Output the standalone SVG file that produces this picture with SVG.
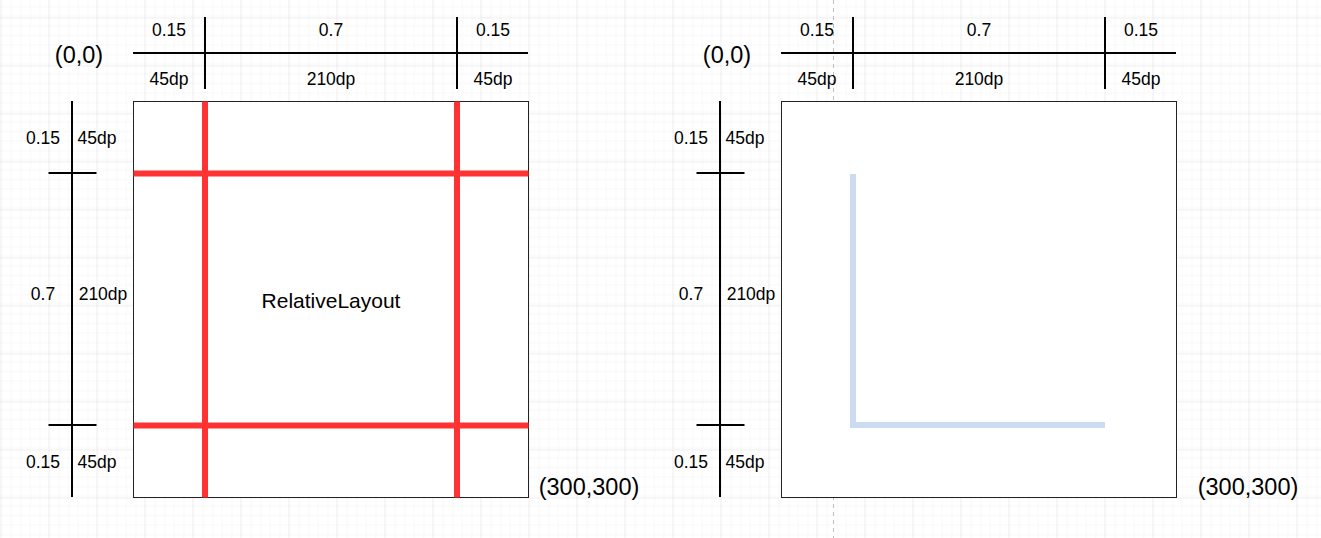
<svg xmlns="http://www.w3.org/2000/svg" width="1321" height="538" viewBox="0 0 1321 538">
<defs>
<pattern id="minor" width="9.6" height="9.6" patternUnits="userSpaceOnUse" x="0.5" y="17.5">
<path d="M0 0H9.6M0 0V9.6" fill="none" stroke="#f1f1f1" stroke-width="1"/>
</pattern>
<pattern id="major" width="48" height="48" patternUnits="userSpaceOnUse" x="0.5" y="17.5">
<rect width="48" height="48" fill="url(#minor)"/>
<path d="M0 0H48M0 0V48" fill="none" stroke="#e2e2e2" stroke-width="1"/>
</pattern>
<style>
.t{font-family:"Liberation Sans",Arial,sans-serif;font-size:17.5px;fill:#000;text-anchor:middle;dominant-baseline:central}
.c{font-family:"Liberation Sans",Arial,sans-serif;font-size:23.5px;fill:#000;text-anchor:middle;dominant-baseline:central}
.rule{stroke:#000;stroke-width:2;fill:none}
.box{fill:#fff;stroke:#222;stroke-width:1}
.red{stroke:#ff3333;stroke-width:6;fill:none}
.blue{stroke:#ccdaf2;stroke-width:6;fill:none}
</style>
</defs>
<rect width="1321" height="538" fill="#fff"/>
<rect width="1321" height="538" fill="url(#major)"/>
<line x1="833.5" y1="0" x2="833.5" y2="538" stroke="#bdbdbd" stroke-width="1" stroke-dasharray="4 4"/>

<g id="left-panel">
<g id="left-box">
<rect class="box" x="133.5" y="101.5" width="395" height="396"/>
<g id="left-guides">
<line class="red" x1="205" y1="101.5" x2="205" y2="497.5"/>
<line class="red" x1="457" y1="101.5" x2="457" y2="497.5"/>
<line class="red" x1="133.5" y1="173.5" x2="528.5" y2="173.5"/>
<line class="red" x1="133.5" y1="425.5" x2="528.5" y2="425.5"/>
</g>
<text class="t" x="331" y="300" style="font-size:21px">RelativeLayout</text>
</g>
<g id="left-top-ruler">
<line class="rule" x1="133" y1="53" x2="528" y2="53"/>
<line class="rule" x1="205" y1="17" x2="205" y2="89"/>
<line class="rule" x1="457" y1="17" x2="457" y2="89"/>
<text class="t" x="169" y="30">0.15</text>
<text class="t" x="169" y="79">45dp</text>
<text class="t" x="331" y="30">0.7</text>
<text class="t" x="331" y="79">210dp</text>
<text class="t" x="493" y="30">0.15</text>
<text class="t" x="493" y="79">45dp</text>
</g>
<g id="left-side-ruler">
<line class="rule" x1="72" y1="101" x2="72" y2="497"/>
<line class="rule" x1="48.5" y1="173" x2="96.5" y2="173"/>
<line class="rule" x1="48.5" y1="425" x2="96.5" y2="425"/>
<text class="t" x="43" y="138">0.15</text>
<text class="t" x="97" y="138">45dp</text>
<text class="t" x="43" y="294">0.7</text>
<text class="t" x="103" y="294">210dp</text>
<text class="t" x="43" y="462">0.15</text>
<text class="t" x="97" y="462">45dp</text>
</g>
<text class="c" x="79" y="55">(0,0)</text>
<text class="c" x="589" y="487">(300,300)</text>
</g>

<g id="right-panel">
<g id="right-box">
<rect class="box" x="781.5" y="101.5" width="395" height="396"/>
<path class="blue" d="M853 174V425H1105"/>
</g>
<g id="right-top-ruler">
<line class="rule" x1="781" y1="53" x2="1176" y2="53"/>
<line class="rule" x1="853" y1="17" x2="853" y2="89"/>
<line class="rule" x1="1105" y1="17" x2="1105" y2="89"/>
<text class="t" x="817" y="30">0.15</text>
<text class="t" x="817" y="79">45dp</text>
<text class="t" x="979" y="30">0.7</text>
<text class="t" x="979" y="79">210dp</text>
<text class="t" x="1141" y="30">0.15</text>
<text class="t" x="1141" y="79">45dp</text>
</g>
<g id="right-side-ruler">
<line class="rule" x1="720" y1="101" x2="720" y2="497"/>
<line class="rule" x1="696.5" y1="173" x2="744.5" y2="173"/>
<line class="rule" x1="696.5" y1="425" x2="744.5" y2="425"/>
<text class="t" x="691" y="138">0.15</text>
<text class="t" x="745" y="138">45dp</text>
<text class="t" x="691" y="294">0.7</text>
<text class="t" x="751" y="294">210dp</text>
<text class="t" x="691" y="462">0.15</text>
<text class="t" x="745" y="462">45dp</text>
</g>
<text class="c" x="727" y="55">(0,0)</text>
<text class="c" x="1248" y="487">(300,300)</text>
</g>
</svg>
